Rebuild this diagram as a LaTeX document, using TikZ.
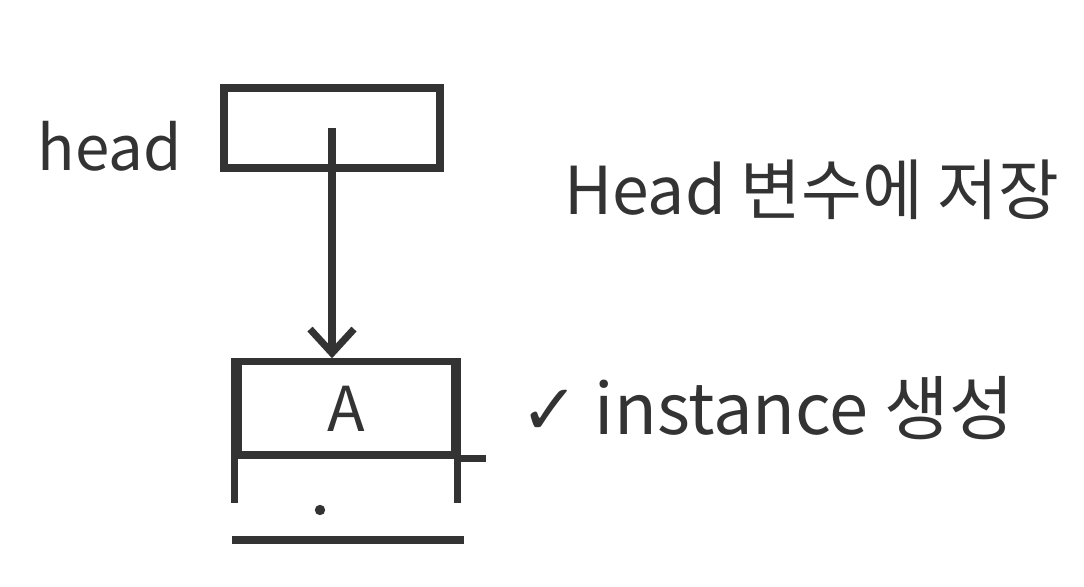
\documentclass[tikz,border=0pt]{standalone}
\usepackage{fontspec}
\usepackage{tikz}
\usetikzlibrary{arrows.meta}
\setmainfont{Noto Sans CJK KR}
\definecolor{ink}{HTML}{333333}
\newfontfamily\hangul{Noto Sans CJK KR}
\newfontfamily\symb{DejaVu Sans}
\newcommand\bigtext{\fontsize{44pt}{50pt}\selectfont}
\newcommand\hugetext{\fontsize{50pt}{56pt}\selectfont}

\begin{document}
\begin{tikzpicture}[>={Straight Barb[length=0.6cm,width=1.1cm,line width=5pt]}, line width=5pt, draw=ink,
  every node/.style={text=ink, font=\hangul\bigtext}]
  \useasboundingbox (0,0) rectangle (27.1,14.65);
  \node (headlabel) at (2.75,11.0) {head};
  \node[draw=ink, line width=5pt, minimum width=5.4cm, minimum height=2.0cm] (headbox) at (8.3,11.45) {};
  \node[draw=ink, line width=5pt, minimum width=5.4cm, minimum height=2.33cm] (cellA) at (8.66,4.44) {A};
  \draw[ink] (cellA.north west) -- ++(0,-3.63);
  \draw[ink] (cellA.north east) -- ++(0,-3.63);
  \draw[ink] (cellA.south east) -- ++(0.7,0);
  \fill[ink] (8.0,1.9) circle (0.13);
  \draw[ink] (5.8,1.15) -- (11.6,1.15);
  \draw[ink, ->] (headbox.center) -- (headbox.center |- cellA.north);
  \node[anchor=west, font=\hangul\fontsize{47pt}{52pt}\selectfont] (store) at (13.9,9.9) {Head 변수에 저장};
  \node[anchor=west, font=\hangul\hugetext] (create) at (12.8,4.45) {{\symb ✓} instance 생성};
\end{tikzpicture}
\end{document}
